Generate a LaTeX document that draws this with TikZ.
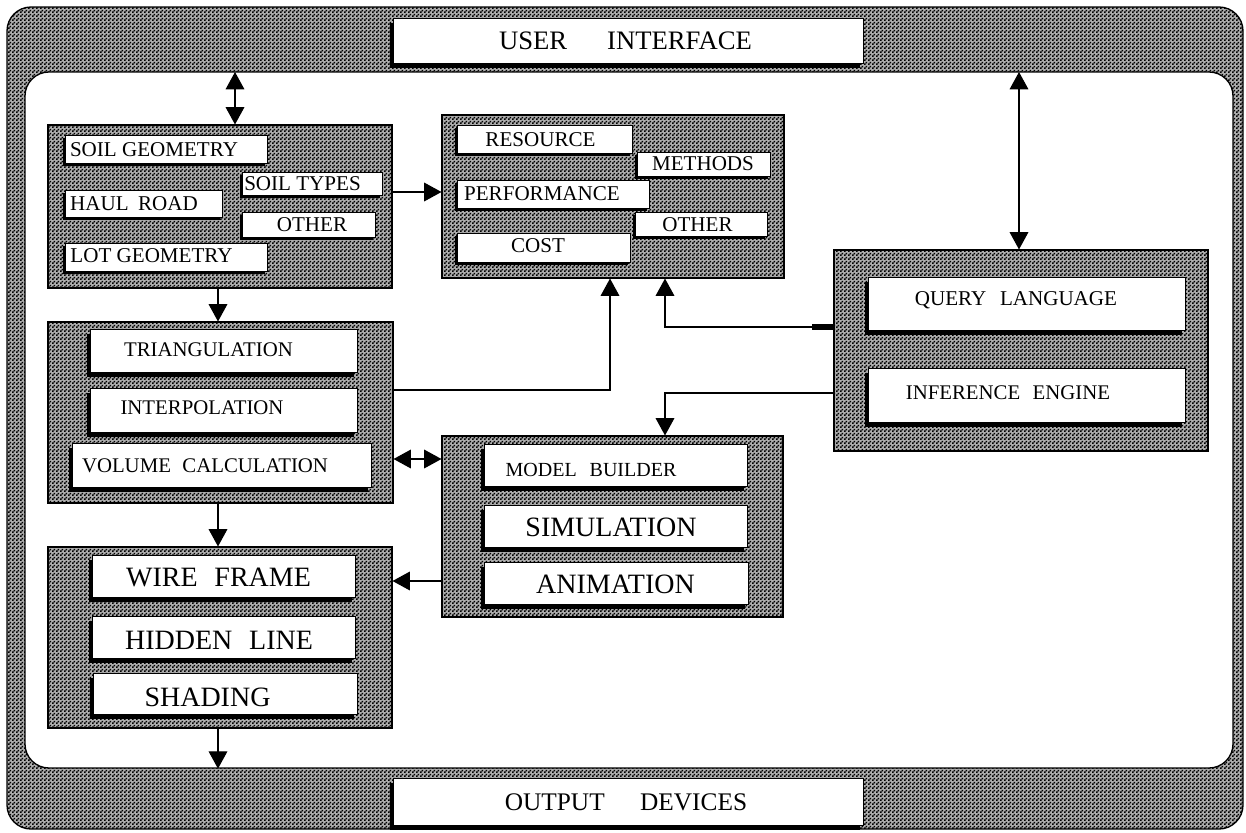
\documentclass[tikz,border=0pt]{standalone}
\usepackage{fontspec}
\setmainfont{Liberation Serif}
\usetikzlibrary{arrows.meta,fit,shadows,patterns.meta}

% fine checker halftone used for all grey areas
\tikzdeclarepattern{
  name=halftone,
  type=uncolored,
  bounding box={(0pt,0pt) and (3pt,3pt)},
  tile size={(3pt,3pt)},
  code={
    \pgfpathrectangle{\pgfpoint{0pt}{0pt}}{\pgfpoint{1.5pt}{1.5pt}}
    \pgfpathrectangle{\pgfpoint{1.5pt}{1.5pt}}{\pgfpoint{1.5pt}{1.5pt}}
    \pgfusepath{fill}
  }
}

\newcommand\fbanner{\fontsize{20}{20}\selectfont}
\newcommand\fout{\fontsize{19}{19}\selectfont}
\newcommand\fitem{\fontsize{15.8}{16}\selectfont}
\newcommand\fmid{\fontsize{15.6}{16}\selectfont}
\newcommand\fbig{\fontsize{21}{21}\selectfont}
\newcommand\fmodel{\fontsize{15}{15}\selectfont}

\tikzset{
  halftone fill/.style={preaction={fill=black!32}, pattern=halftone, pattern color=black},
  frame/.style={halftone fill, draw=black, line width=1pt, rounded corners=18pt, inner sep=0pt},
  panel/.style={fill=white, draw=black, line width=1pt, rounded corners=18pt, inner sep=0pt},
  group/.style={halftone fill, draw=black, line width=0.8pt, inner sep=0pt},
  card/.style={fill=white, draw=black, line width=0.6pt, inner sep=0pt,
    drop shadow={shadow xshift=-2.6pt, shadow yshift=-3.6pt, fill=black, opacity=1}},
  chip/.style={fill=white, draw=black, line width=0.6pt, inner sep=0pt,
    drop shadow={shadow xshift=-1.8pt, shadow yshift=-2.4pt, fill=black, opacity=1}},
  txt/.style={inner sep=0pt},
  tip/.tip={Triangle[length=13pt,width=14pt]},
  link/.style={line width=0.9pt, -tip},
  biway/.style={line width=0.9pt, tip-tip},
}

\begin{document}
\begin{tikzpicture}[x=0.75pt,y=-0.75pt]
\useasboundingbox (0,0) rectangle (1246,832);

% outer frame and inner working area
\node[frame, fit={(7,7) (1243,829)}] (frame) {};
\node[panel, fit={(25,72) (1233,768)}] (panel) {};

% banners
\node[card, fit={(393,18) (863,63)}] (ui) {};
\node[txt, font=\fbanner] (t-ui) at (625.5,41) {USER\hspace{1.5em}INTERFACE};
\node[card, fit={(393,778) (863,825)}] (od) {};
\node[txt, font=\fout] (t-od) at (626,802) {OUTPUT\hspace{1.4em}DEVICES};

% module groups
\node[group, fit={(48,125) (392,288)}] (g1) {};
\node[group, fit={(442,115) (784,278)}] (g2) {};
\node[group, fit={(48,322) (393,503)}] (g3) {};
\node[group, fit={(48,547) (392,728)}] (g4) {};
\node[group, fit={(442,436) (783,617)}] (g5) {};
\node[group, fit={(834,250) (1208,451)}] (g6) {};

% site data
\node[chip, fit={(65,135) (267,163)}] (sg) {};
\node[txt, font=\fitem] (t-sg) at (154,149.5) {SOIL GEOMETRY};
\node[chip, fit={(242,172) (382,195)}] (st) {};
\node[txt, font=\fitem] (t-st) at (302.5,183.5) {SOIL TYPES};
\node[chip, fit={(65,190) (222,217)}] (hr) {};
\node[txt, font=\fitem] (t-hr) at (134,204) {HAUL\hspace{0.45em}ROAD};
\node[chip, fit={(242,212) (375,237)}] (o1) {};
\node[txt, font=\fitem] (t-o1) at (312,224.5) {OTHER};
\node[chip, fit={(65,243) (267,271)}] (lg) {};
\node[txt, font=\fitem] (t-lg) at (151.5,255.5) {LOT GEOMETRY};

% equipment data
\node[chip, fit={(457,125) (632,153)}] (res) {};
\node[txt, font=\fitem] (t-res) at (540.5,139.5) {RESOURCE};
\node[chip, fit={(637,152) (770,176)}] (met) {};
\node[txt, font=\fitem] (t-met) at (703,163.5) {METHODS};
\node[chip, fit={(457,180) (649,208)}] (perf) {};
\node[txt, font=\fitem] (t-perf) at (542,194) {PERFORMANCE};
\node[chip, fit={(635,212) (767,236)}] (o2) {};
\node[txt, font=\fitem] (t-o2) at (697.5,224.5) {OTHER};
\node[chip, fit={(457,233) (630,262)}] (cost) {};
\node[txt, font=\fitem] (t-cost) at (538,245.5) {COST};

% geometry processing
\node[card, fit={(90,329) (357,372)}] (tri) {};
\node[txt, font=\fmid] (t-tri) at (208.5,350) {TRIANGULATION};
\node[card, fit={(90,388) (357,432)}] (interp) {};
\node[txt, font=\fmid] (t-interp) at (202,408) {INTERPOLATION};
\node[card, fit={(72,443) (371,487)}] (vol) {};
\node[txt, font=\fmid] (t-vol) at (205,465.5) {VOLUME\hspace{0.55em}CALCULATION};

% rendering
\node[card, fit={(92,555) (355,597)}] (wf) {};
\node[txt, font=\fbig] (t-wf) at (218.5,577.5) {WIRE\hspace{0.6em}FRAME};
\node[card, fit={(92,616) (355,658)}] (hl) {};
\node[txt, font=\fbig] (t-hl) at (219,640) {HIDDEN\hspace{0.6em}LINE};
\node[card, fit={(93,673) (357,714)}] (sh) {};
\node[txt, font=\fbig] (t-sh) at (207.5,697) {SHADING};

% modelling
\node[card, fit={(484,444) (747,486)}] (mb) {};
\node[txt, font=\fmodel] (t-mb) at (591,470) {MODEL\hspace{0.65em}BUILDER};
\node[card, fit={(484,505) (747,547)}] (sim) {};
\node[txt, font=\fbig] (t-sim) at (611,527) {SIMULATION};
\node[card, fit={(484,562) (748,604)}] (anim) {};
\node[txt, font=\fbig] (t-anim) at (615.5,584.5) {ANIMATION};

% knowledge base
\node[card, fit={(868,277) (1185,330)}] (ql) {};
\node[txt, font=\fitem] (t-ql) at (1016,300.5) {QUERY\hspace{0.65em}LANGUAGE};
\node[card, fit={(868,368) (1185,422)}] (ie) {};
\node[txt, font=\fmid] (t-ie) at (1008,392.5) {INFERENCE\hspace{0.6em}ENGINE};

% ports on the interface frame
\coordinate (uiport) at (235,72);
\coordinate (qport) at (1019,72);

% connectors
\draw[biway] (uiport) -- (uiport |- g1.north);
\draw[biway] (qport) -- (qport |- g6.north);
\draw[link] (g1.east |- 0,192) -- (g2.west |- 0,192);
\draw[link] (g1.south -| 218,0) -- (g3.north -| 218,0);
\draw[link] (g3.south -| 218,0) -- (g4.north -| 218,0);
\draw[link] (g4.south -| 218,0) -- (panel.south -| 218,0);
\draw[biway] (g3.east |- 0,459) -- (g5.west |- 0,459);
\draw[link] (g5.west |- 0,581) -- (g4.east |- 0,581);
\draw[link] (g3.east |- 0,390) -| (g2.south -| 610,0);
\draw[link] (g6.west |- 0,327) -| (g2.south -| 665,0);
\draw[line width=4.5pt] (g6.west |- 0,327) -- ++(-21,0);
\draw[link] (g6.west |- 0,393) -| (g5.north -| 665,0);
\end{tikzpicture}
\end{document}
